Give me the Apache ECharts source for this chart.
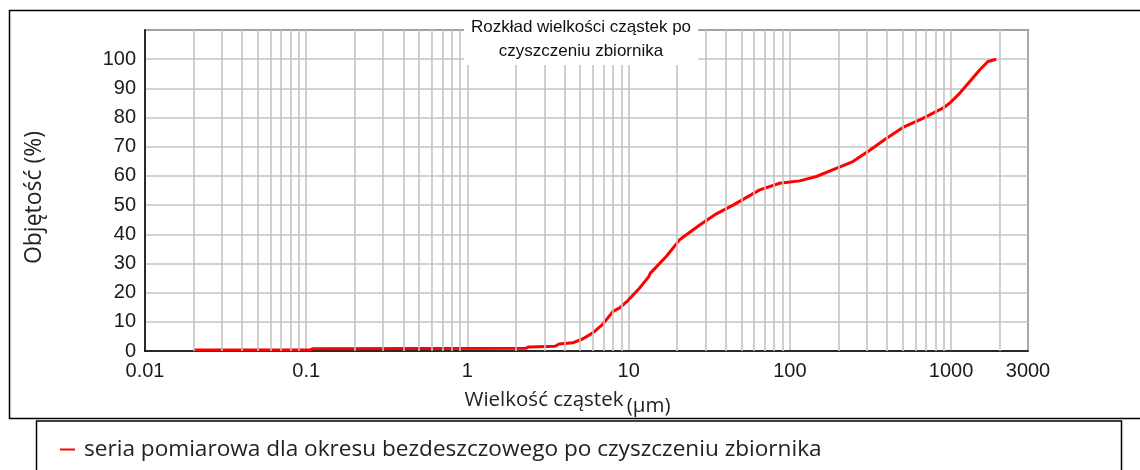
<!DOCTYPE html>
<html><head><meta charset="utf-8">
<script src="https://cdn.jsdelivr.net/npm/echarts@6/dist/echarts.min.js"></script>
<style>html,body{margin:0;padding:0;background:#fff}#c{width:1140px;height:470px}</style>
</head><body><div id="c"></div>
<script>
const titleLines = ['Rozkład wielkości cząstek po', 'czyszczeniu zbiornika'];
const seriesName = 'seria pomiarowa dla okresu bezdeszczowego po czyszczeniu zbiornika';
const xName = 'Wielkość cząstek';
const xUnit = '(µm)';
const yName = 'Objętość (%)';

// particle size (µm) and cumulative volume (%)
const particleSize = [0.02, 0.105, 0.11, 2.3, 2.4, 3.5, 3.7, 4.5, 5.2, 6.0, 6.9, 8.0, 8.8, 9.7, 11.7, 13.3, 13.6, 17.1, 20.7, 27.6, 35, 44.4, 65, 86.5, 115, 146, 194, 246, 313, 396, 503, 668, 889, 979, 1130, 1303, 1503, 1692, 1905];
const volume =       [0.3,  0.3,   0.8,  0.9, 1.4, 1.6, 2.4, 2.8, 4.2, 6.2, 9.1, 13.6, 14.8, 16.8, 21.6, 25.4, 26.6, 32.4, 38.1, 43.2, 47.0, 50.0, 55.2, 57.5, 58.3, 59.8, 62.6, 64.9, 68.8, 72.8, 76.6, 79.7, 83.2, 84.9, 88.3, 92.3, 96.3, 99.2, 100];

const xMin = 0.01, xMax = 3000;
const yMin = 0, yMax = 110, yStep = 10, yLabelMax = 100;
// intermediate log grid values (2..9 within each decade)
const minorGridValues = [0.02,0.03,0.04,0.05,0.06,0.07,0.08,0.09,
  0.2,0.3,0.4,0.5,0.6,0.7,0.8,0.9,
  2,3,4,5,6,7,8,9,
  20,30,40,50,60,70,80,90,
  200,300,400,500,600,700,800,900,
  2000];

const chart = echarts.init(document.getElementById('c'), null, {renderer:'canvas'});
const gridColor = '#c4c4c4';
const option = {
  animation: false,
  backgroundColor: '#fff',
  title: {
    text: titleLines.join('\n'),
    left: 574, top: 15, textAlign: 'center',
    backgroundColor: '#fff',
    padding: [0, 7, 2, 7],
    textStyle: {fontFamily: 'Liberation Sans', fontSize: 17, fontWeight: 'normal', color: '#111', lineHeight: 24}
  },
  legend: {
    data: [seriesName],
    left: 55, top: 433,
    icon: 'rect', itemWidth: 15, itemHeight: 2,
    textStyle: {fontFamily: 'Open Sans', fontSize: 22.6, color: '#222', padding: [0,0,0,4]}
  },
  grid: {left: 145, right: 112, top: 30, bottom: 119, show: true, borderColor: '#000', borderWidth: 1.5, containLabel: false},
  xAxis: {
    type: 'log', logBase: 10, min: xMin, max: xMax,
    name: '{a|' + xName + '} {b|' + xUnit + '}',
    nameLocation: 'middle', nameGap: 33,
    nameTextStyle: {
      padding: [0, 38, 0, 0],
      rich: {
        a: {fontFamily: 'Open Sans', fontSize: 20.5, color: '#222'},
        b: {fontFamily: 'Open Sans', fontSize: 20.5, color: '#222', padding: [12, 0, 0, 0]}
      }
    },
    axisLine: {show: true, lineStyle: {color: '#000', width: 1.5}},
    axisTick: {show: false},
    axisLabel: {fontFamily: 'Liberation Sans', fontSize: 20, color: '#1a1a1a', margin: 10,
      formatter: v => String(Number(Number(v).toPrecision(6)))},
    splitLine: {show: true, lineStyle: {color: gridColor, width: 1.6}}
  },
  yAxis: {
    type: 'value', min: yMin, max: yMax, interval: yStep,
    name: yName, nameLocation: 'middle', nameGap: 99, nameRotate: 90,
    nameTextStyle: {fontFamily: 'Open Sans', fontSize: 23, color: '#222', padding: [0, 14, 0, 0]},
    axisLine: {show: true, lineStyle: {color: '#000', width: 1.5}},
    axisTick: {show: false},
    axisLabel: {fontFamily: 'Liberation Sans', fontSize: 20, color: '#1a1a1a', margin: 9,
      formatter: v => (v > yLabelMax ? '' : String(v))},
    splitLine: {show: true, lineStyle: {color: gridColor, width: 1.6}}
  },
  graphic: [
    {type: 'rect', silent: true, z: -10, shape: {x: 9.5, y: 10.5, width: 1150, height: 408}, style: {fill: 'none', stroke: '#000', lineWidth: 1.5}},
    {type: 'rect', silent: true, z: -10, shape: {x: 36.5, y: 421, width: 1085, height: 80}, style: {fill: 'none', stroke: '#000', lineWidth: 1.5}}
  ],
  series: [
    {
      name: '_grid', type: 'line', data: [], z: 1, silent: true,
      markLine: {
        silent: true, symbol: ['none', 'none'], animation: false,
        label: {show: false},
        lineStyle: {color: gridColor, width: 1.6, type: 'solid', opacity: 1},
        emphasis: {disabled: true},
        data: minorGridValues.map(v => ({xAxis: v}))
      }
    },
    {
      name: seriesName, type: 'line', z: 3,
      data: particleSize.map((x, i) => [x, volume[i]]),
      showSymbol: false, symbol: 'none', smooth: false,
      color: '#ff0000',
      lineStyle: {color: '#ff0000', width: 3}
    }
  ]
};
chart.setOption(option);
</script></body></html>
